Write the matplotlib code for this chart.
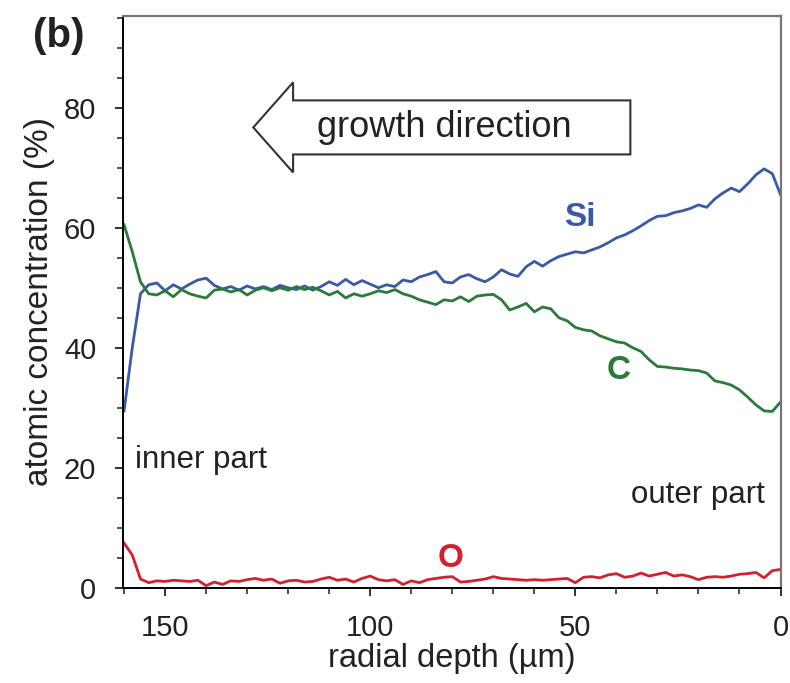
import numpy as np
import matplotlib.pyplot as plt
from matplotlib.patches import Polygon
from matplotlib.ticker import MultipleLocator

# radial depth in µm, from 160 down to 0 in 2 µm steps
depth = np.arange(160, -1, -2)

si = [29.5, 40, 49, 50.5, 50.8, 49.5, 50.5, 49.8, 50.6, 51.3,
      51.6, 50.4, 49.8, 50.2, 49.6, 50.3, 49.8, 50.2, 49.7, 50.4,
      50.0, 49.7, 50.3, 49.6, 50.2, 51.0, 50.4, 51.4, 50.5, 51.2,
      50.6, 50.0, 50.5, 50.2, 51.3, 51.0, 51.8, 52.2, 52.7, 51.0,
      50.8, 51.8, 52.2, 51.5, 51.0, 51.8, 53.0, 52.3, 51.9, 53.5,
      54.4, 53.6, 54.5, 55.2, 55.6, 56.0, 55.8, 56.3, 56.8, 57.5,
      58.3, 58.8, 59.5, 60.3, 61.2, 61.9, 62.0, 62.5, 62.8, 63.2,
      63.8, 63.4, 64.8, 65.8, 66.6, 66.0, 67.3, 68.8, 69.8, 69.0,
      65.5]

c = [60.5, 56, 51, 49, 48.8, 49.5, 48.5, 49.7, 49.0, 48.6,
     48.3, 49.6, 49.8, 49.3, 49.7, 48.8, 49.6, 50.0, 49.5, 50.0,
     49.6, 50.2, 49.7, 50.1, 49.5, 48.8, 49.4, 48.3, 49.0, 48.6,
     49.0, 49.5, 49.2, 49.7, 49.0, 48.6, 48.0, 47.6, 47.2, 48.0,
     47.8, 48.5, 47.7, 48.6, 48.8, 48.9, 48.0, 46.3, 46.8, 47.4,
     46.0, 46.8, 46.5, 45.0, 44.5, 43.4, 43.0, 42.8, 42.0, 41.5,
     41.0, 40.8, 40.0, 39.4, 38.0, 36.9, 36.8, 36.6, 36.5, 36.3,
     36.2, 35.8, 34.5, 34.2, 33.8, 33.0, 31.8, 30.5, 29.5, 29.4,
     31.0]

o = [7.5, 5.5, 1.5, 0.9, 1.2, 1.1, 1.3, 1.2, 1.1, 1.3,
     0.4, 1.0, 0.6, 1.2, 1.1, 1.4, 1.6, 1.3, 1.5, 0.8,
     1.2, 1.3, 1.0, 1.1, 1.5, 1.8, 1.3, 1.5, 1.0, 1.6,
     2.0, 1.4, 1.2, 1.4, 0.6, 1.2, 0.9, 1.4, 1.6, 1.8,
     1.9, 1.0, 1.1, 1.3, 1.5, 1.9, 1.6, 1.5, 1.4, 1.3,
     1.4, 1.3, 1.4, 1.5, 1.6, 0.9, 1.8, 1.9, 1.7, 2.2,
     2.4, 1.8, 2.0, 2.5, 2.0, 2.3, 2.6, 2.0, 2.2, 1.9,
     1.4, 1.8, 1.9, 1.8, 2.0, 2.3, 2.4, 2.6, 1.7, 2.9,
     3.1]

blue = '#3a5aa6'
green = '#2b7a3b'
red = '#d3202f'
ink = '#222222'

plt.rcParams['font.family'] = ['Liberation Sans', 'DejaVu Sans']

fig = plt.figure(figsize=(7.9, 6.83), dpi=100)
ax = fig.add_axes([0.156, 0.139, 0.832, 0.838])

ax.plot(depth, si, color=blue, lw=2.0)
ax.plot(depth, c, color=green, lw=2.0)
ax.plot(depth, o, color=red, lw=2.0)

ax.set_xlim(160.2, 0)
ax.set_ylim(0, 95.3)
ax.xaxis.set_major_locator(MultipleLocator(50))
ax.xaxis.set_minor_locator(MultipleLocator(10))
ax.yaxis.set_major_locator(MultipleLocator(20))
ax.yaxis.set_minor_locator(MultipleLocator(5))
ax.tick_params(which='both', direction='out', top=False, right=False,
               labelsize=21, colors=ink)
ax.tick_params(which='major', length=5.5, width=1.3)
ax.tick_params(which='minor', length=4, width=1.1)
ax.tick_params(axis='y', which='major', pad=14)
ax.tick_params(axis='x', which='major', pad=13)
for side in ['top', 'right']:
    ax.spines[side].set_color('#777777')
    ax.spines[side].set_linewidth(1.6)
for side in ['left', 'bottom']:
    ax.spines[side].set_linewidth(1.4)

ax.set_xlabel('radial depth (\u00b5m)', fontsize=23.5, labelpad=1, color=ink)
ax.set_ylabel('atomic concentration (%)', fontsize=24, labelpad=6, color=ink)

# growth direction arrow
arrow = Polygon([(128.5, 76.7), (118.8, 84.2), (118.8, 81.2), (36.6, 81.2),
                 (36.6, 72.2), (118.8, 72.2), (118.8, 69.2)],
                closed=True, facecolor='white', edgecolor='#333333', lw=1.5)
ax.add_patch(arrow)
ax.text(82, 76.7, 'growth direction', fontsize=26, ha='center', va='center',
        color=ink)

ax.text(48.8, 61.7, 'Si', fontsize=24, color=blue, fontweight='bold',
        ha='center', va='center')
ax.text(39.5, 36.3, 'C', fontsize=24, color=green, fontweight='bold',
        ha='center', va='center')
ax.text(80.5, 5.0, 'O', fontsize=24, color=red, fontweight='bold',
        ha='center', va='center')
ax.text(157.3, 21.3, 'inner part', fontsize=22.5, ha='left', va='center',
        color=ink)
ax.text(3.7, 15.5, 'outer part', fontsize=22.5, ha='right', va='center',
        color=ink)

fig.text(0.042, 0.947, '(b)', fontsize=29, fontweight='bold', color=ink,
         va='center')

plt.savefig('out.png', dpi=100)
